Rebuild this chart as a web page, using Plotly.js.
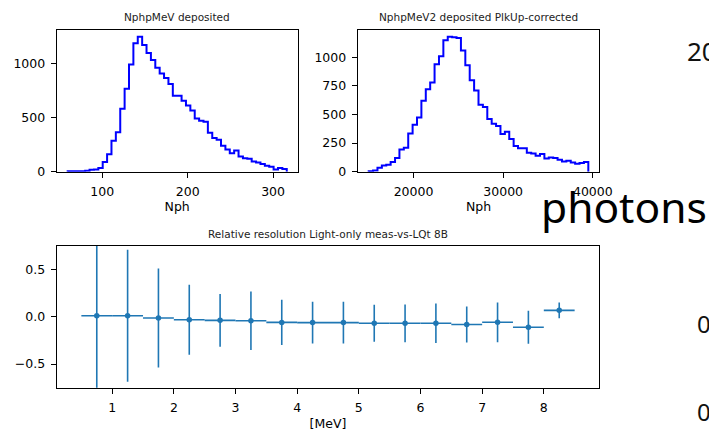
<!DOCTYPE html>
<html>
<head>
<meta charset="utf-8">
<script src="https://cdn.plot.ly/plotly-3.0.1.min.js"></script>
<style>html,body{margin:0;padding:0;background:#fff;}#chart{width:709px;height:431px;}</style>
</head>
<body>
<div id="chart"></div>
<script>
// ---------- data ----------
// Histogram 1: NphpMeV deposited (50 bins)
const nphRange = [59.5, 316];
const nphCounts = [5, 5, 5, 5, 8, 18, 20, 35, 90, 160,
  285, 365, 580, 765, 990, 1185, 1245, 1170, 1095, 1030,
  960, 905, 865, 810, 700, 700, 655, 610, 565, 490,
  470, 460, 360, 310, 295, 240, 205, 170, 195, 140,
  125, 120, 95, 85, 70, 55, 45, 20, 35, 25];
// Histogram 2: NphpMeV2 deposited PlkUp-corrected (50 bins)
const nph2Range = [15000, 39500];
const nph2Counts = [5, 10, 35, 55, 60, 85, 120, 195, 210, 335,
  410, 475, 620, 720, 780, 940, 1010, 1150, 1180, 1175,
  1170, 1060, 930, 800, 710, 585, 565, 460, 420, 400,
  330, 350, 285, 225, 205, 205, 165, 160, 140, 155,
  115, 125, 120, 105, 90, 95, 80, 70, 75, 85];
// Relative resolution vs energy
const energyMeV = [0.75, 1.25, 1.75, 2.25, 2.75, 3.25, 3.75, 4.25, 4.75, 5.25, 5.75, 6.25, 6.75, 7.25, 7.75, 8.25];
const energyHalfBin = [0.25, 0.25, 0.25, 0.25, 0.25, 0.25, 0.25, 0.25, 0.25, 0.25, 0.25, 0.25, 0.25, 0.25, 0.25, 0.25];
const relRes = [0.012, 0.012, -0.012, -0.03, -0.036, -0.04, -0.058, -0.06, -0.06, -0.067, -0.067, -0.067, -0.08, -0.057, -0.11, 0.07];
const relResErr = [0.9, 0.70, 0.525, 0.37, 0.28, 0.31, 0.24, 0.222, 0.222, 0.195, 0.2, 0.21, 0.19, 0.21, 0.175, 0.083];

// tick labels
const h1XTicks = [100, 200, 300];
const h1YTicks = [0, 500, 1000];
const h2XTicks = [20000, 30000, 40000];
const h2YTicks = [0, 250, 500, 750, 1000];
const resXTicks = [1, 2, 3, 4, 5, 6, 7, 8];
const resYTicks = [-0.5, 0, 0.5];
const resYTickText = ['\u22120.5', '0.0', '0.5'];

// ---------- helpers ----------
function stepOutline(range, counts) {
  const n = counts.length;
  const w = (range[1] - range[0]) / n;
  const xs = [range[0]], ys = [0];
  for (let i = 0; i < n; i++) { xs.push(range[0] + i * w); ys.push(counts[i]); }
  xs.push(range[1]); ys.push(0);
  return {x: xs, y: ys};
}
function padRange(r, f) { const d = r[1] - r[0]; return [r[0] - f * d, r[1] + f * d]; }

const s1 = stepOutline(nphRange, nphCounts);
const s2 = stepOutline(nph2Range, nph2Counts);

const FONT = 'DejaVu Sans, sans-serif';
const W = 709, H = 431;
const px = v => v / W, py = v => 1 - v / H;

const axisBase = {
  showline: true, mirror: true, linecolor: '#000', linewidth: 1,
  ticks: 'outside', ticklen: 5, tickwidth: 1, tickcolor: '#000',
  showgrid: false, zeroline: false, fixedrange: true,
  tickfont: {family: FONT, size: 12.5, color: '#000'},
  tickmode: 'array'
};
const xAxisBase = Object.assign({}, axisBase, {ticklabelstandoff: 3});
const yAxisBase = Object.assign({}, axisBase, {ticklabelstandoff: 3});
const titleFont = {family: FONT, size: 12.5, color: '#000'};

const traces = [
  {x: s1.x, y: s1.y, xaxis: 'x', yaxis: 'y', type: 'scatter', mode: 'lines',
   line: {shape: 'hv', color: '#0000ff', width: 2}, hoverinfo: 'skip', showlegend: false},
  {x: s2.x, y: s2.y, xaxis: 'x2', yaxis: 'y2', type: 'scatter', mode: 'lines',
   line: {shape: 'hv', color: '#0000ff', width: 2}, hoverinfo: 'skip', showlegend: false},
  {x: energyMeV, y: relRes, xaxis: 'x3', yaxis: 'y3', type: 'scatter', mode: 'markers',
   marker: {color: '#1f77b4', size: 5.5},
   error_x: {type: 'data', array: energyHalfBin, visible: true, color: '#1f77b4', thickness: 1.6, width: 0},
   error_y: {type: 'data', array: relResErr, visible: true, color: '#1f77b4', thickness: 1.6, width: 0},
   cliponaxis: true, hoverinfo: 'skip', showlegend: false}
];

const h1Max = Math.max(...nphCounts), h2Max = Math.max(...nph2Counts);

const layout = {
  width: W, height: H, autosize: false,
  margin: {l: 0, r: 0, t: 0, b: 0},
  paper_bgcolor: '#fff', plot_bgcolor: '#fff',
  font: {family: FONT, size: 12, color: '#000'},
  showlegend: false,
  xaxis: Object.assign({}, xAxisBase, {domain: [px(56.7), px(297.7)], anchor: 'y',
    range: padRange(nphRange, 0.05), tickvals: h1XTicks, ticktext: h1XTicks.map(String),
    title: {text: 'Nph', font: titleFont, standoff: 4}}),
  yaxis: Object.assign({}, yAxisBase, {domain: [py(171.7), py(30)], anchor: 'x',
    range: [0, h1Max * 1.05], tickvals: h1YTicks, ticktext: h1YTicks.map(String)}),
  xaxis2: Object.assign({}, xAxisBase, {domain: [px(357.7), px(599.3)], anchor: 'y2',
    range: padRange(nph2Range, 0.05), tickvals: h2XTicks, ticktext: h2XTicks.map(String),
    title: {text: 'Nph', font: titleFont, standoff: 4}}),
  yaxis2: Object.assign({}, yAxisBase, {domain: [py(171.7), py(30)], anchor: 'x2',
    range: [0, h2Max * 1.05], tickvals: h2YTicks, ticktext: h2YTicks.map(String)}),
  xaxis3: Object.assign({}, xAxisBase, {domain: [px(56.7), px(599.3)], anchor: 'y3',
    range: [0.1, 8.9], tickvals: resXTicks, ticktext: resXTicks.map(String),
    title: {text: '[MeV]', font: titleFont, standoff: 7}}),
  yaxis3: Object.assign({}, yAxisBase, {domain: [py(387.7), py(245.7)], anchor: 'x3',
    range: [-0.75, 0.755], tickvals: resYTicks, ticktext: resYTickText}),
  annotations: [
    {text: 'NphpMeV deposited', xref: 'paper', yref: 'paper', x: px(177.2), y: py(17.3),
     xanchor: 'center', yanchor: 'middle', showarrow: false, font: {family: FONT, size: 10.5, color: '#222'}},
    {text: 'NphpMeV2 deposited PlkUp-corrected', xref: 'paper', yref: 'paper', x: px(478.5), y: py(17.3),
     xanchor: 'center', yanchor: 'middle', showarrow: false, font: {family: FONT, size: 10.5, color: '#222'}},
    {text: 'Relative resolution Light-only meas-vs-LQt 8B', xref: 'paper', yref: 'paper', x: px(328), y: py(234),
     xanchor: 'center', yanchor: 'middle', showarrow: false, font: {family: FONT, size: 10.5, color: '#222'}},
    {text: 'photons', xref: 'paper', yref: 'paper', x: px(538.5), y: py(206),
     xanchor: 'left', yanchor: 'middle', showarrow: false, font: {family: 'Noto Sans, sans-serif', size: 42.5, color: '#000'}},
    {text: '20', xref: 'paper', yref: 'paper', x: px(684.5), y: py(51),
     xanchor: 'left', yanchor: 'middle', showarrow: false, font: {family: 'Noto Sans, sans-serif', size: 26, color: '#111'}},
    {text: '0', xref: 'paper', yref: 'paper', x: px(695), y: py(323),
     xanchor: 'left', yanchor: 'middle', showarrow: false, font: {family: 'Noto Sans, sans-serif', size: 24, color: '#111'}},
    {text: '0', xref: 'paper', yref: 'paper', x: px(695), y: py(411.5),
     xanchor: 'left', yanchor: 'middle', showarrow: false, font: {family: 'Noto Sans, sans-serif', size: 24, color: '#111'}}
  ]
};

Plotly.newPlot('chart', traces, layout, {displayModeBar: false, staticPlot: true});
</script>
</body>
</html>
